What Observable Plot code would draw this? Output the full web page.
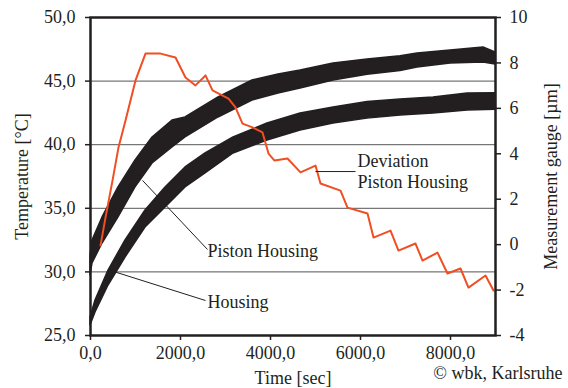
<!DOCTYPE html>
<html>
<head>
<meta charset="utf-8">
<script src="https://cdn.jsdelivr.net/npm/d3@7"></script>
<script src="https://cdn.jsdelivr.net/npm/@observablehq/plot@0.6"></script>
<style>
  html, body { margin: 0; padding: 0; background: #fff; }
</style>
</head>
<body>
<div id="chart"></div>
<script>
// ---- Deviation Piston Housing (right axis, µm) ----
const devTime  = [222, 333, 489, 622, 778, 1000, 1222, 1556, 1889, 2111, 2333, 2556, 2711, 3067, 3222, 3378, 3600, 3822, 3956, 4089, 4378, 4667, 5000, 5111, 5556, 5711, 6156, 6289, 6667, 6844, 7222, 7378, 7711, 7933, 8222, 8400, 8778, 8956];
const devValue = [-0.04, 1.19, 2.82, 4.28, 5.47, 7.23, 8.41, 8.41, 8.24, 7.36, 7.01, 7.45, 6.79, 6.43, 6.04, 5.33, 5.16, 4.94, 4.01, 3.70, 3.79, 3.18, 3.48, 2.69, 2.38, 1.63, 1.37, 0.31, 0.62, -0.26, 0.05, -0.70, -0.35, -1.27, -1.05, -1.89, -1.36, -2.02];

// ---- Piston Housing temperature band (°C) ----
const phTime = [0, 44, 267, 622, 1000, 1378, 1822, 2111, 2844, 3600, 4178, 4667, 5400, 6156, 6889, 7267, 8000, 8733, 9000];
const phLow  = [29.72, 30.66, 32.23, 34.28, 36.64, 38.52, 39.78, 40.57, 42.14, 43.47, 44.03, 44.42, 45.05, 45.50, 45.80, 46.07, 46.38, 46.46, 46.31];
const phHigh = [31.29, 32.47, 34.28, 36.64, 38.76, 40.57, 41.90, 42.14, 43.71, 45.05, 45.52, 45.83, 46.38, 46.70, 46.95, 47.17, 47.41, 47.64, 47.25];

// ---- Housing temperature band (°C) ----
const hTime = [0, 111, 400, 778, 1222, 1667, 2111, 2556, 3178, 3933, 4667, 5400, 6156, 6889, 7622, 8378, 9000];
const hLow  = [25.79, 26.81, 28.93, 31.13, 33.49, 35.06, 36.64, 37.74, 39.31, 40.33, 41.12, 41.67, 42.05, 42.30, 42.45, 42.69, 42.75];
const hHigh = [26.42, 27.75, 30.11, 32.47, 34.83, 36.64, 38.21, 39.31, 40.57, 41.67, 42.45, 42.92, 43.35, 43.55, 43.71, 44.03, 44.05];

// ---- ticks ----
const xTicks = [0, 2000, 4000, 6000, 8000];
const yTicks = [25, 30, 35, 40, 45, 50];
const gridTicks = [30, 35, 40, 45];
const rTicks = [-4, -2, 0, 2, 4, 6, 8, 10];

// ---- annotations ----
const annoText = ["Deviation", "Piston Housing", "Piston Housing", "Housing"];
const annoTime = [5933, 5933, 2600, 2600];
const annoTemp = [38.68, 37.03, 31.60, 27.59];
const leadT1 = [5000, 1156, 444];
const leadY1 = [37.89, 37.19, 30.11];
const leadT2 = [5889, 2600, 2556];
const leadY2 = [37.89, 31.76, 27.75];

// right axis (µm) mapped onto the temperature scale
const rMin = -4, rMax = 10, tMin = 25, tMax = 50;
const toT = v => tMin + (v - rMin) * (tMax - tMin) / (rMax - rMin);
const fromT = t => rMin + (t - tMin) * (rMax - rMin) / (tMax - tMin);
const comma1 = d => d.toFixed(1).replace(".", ",");

const dev = devTime.map((t, i) => ({t, v: devValue[i]}));
const ph = phTime.map((t, i) => ({t, lo: phLow[i], hi: phHigh[i]}));
const ho = hTime.map((t, i) => ({t, lo: hLow[i], hi: hHigh[i]}));
const anno = annoText.map((s, i) => ({s, t: annoTime[i], y: annoTemp[i]}));
const leads = leadT1.map((t, i) => ({x1: t, y1: leadY1[i], x2: leadT2[i], y2: leadY2[i]}));
const notes = [{s: "© wbk, Karlsruhe"}];

const ink = "#231f20";

const chart = Plot.plot({
  width: 568,
  height: 388,
  marginLeft: 90,
  marginRight: 73,
  marginTop: 17,
  marginBottom: 53,
  style: {fontFamily: "'Liberation Serif', 'Times New Roman', serif", fontSize: "18px", color: ink, background: "#fff", overflow: "visible"},
  x: {domain: [0, 9000]},
  y: {domain: [tMin, tMax]},
  marks: [
    Plot.ruleY(gridTicks, {stroke: "#555", strokeWidth: 1}),
    Plot.areaY(ho, {x: "t", y1: "lo", y2: "hi", fill: ink, stroke: ink, strokeWidth: 1.5}),
    Plot.areaY(ph, {x: "t", y1: "lo", y2: "hi", fill: ink, stroke: ink, strokeWidth: 1.5}),
    Plot.line(dev, {x: "t", y: d => toT(d.v), stroke: "#f04e23", strokeWidth: 2, strokeLinejoin: "round"}),
    Plot.link(leads, {x1: "x1", y1: "y1", x2: "x2", y2: "y2", stroke: ink, strokeWidth: 1}),
    Plot.text(anno, {x: "t", y: "y", text: "s", textAnchor: "start", fill: ink, fontSize: 18}),
    Plot.axisX(xTicks, {tickFormat: comma1, tickSize: 5, tickPadding: 6, stroke: ink, strokeWidth: 1.5, fill: ink, fontSize: 18,
      label: "Time [sec]", labelAnchor: "center", labelArrow: "none", labelOffset: 48}),
    Plot.axisY(yTicks, {anchor: "left", tickFormat: comma1, tickSize: 5, tickPadding: 10, stroke: ink, strokeWidth: 1.5, fill: ink, fontSize: 18,
      label: "Temperature [°C]", labelAnchor: "center", labelArrow: "none", labelOffset: 75}),
    Plot.axisY(rTicks.map(toT), {anchor: "right", tickFormat: d => String(Math.round(fromT(d))), tickSize: 5, tickPadding: 9, stroke: ink, strokeWidth: 1.5, fill: ink, fontSize: 18,
      label: "Measurement gauge [µm]", labelAnchor: "center", labelArrow: "none", labelOffset: 61}),
    Plot.frame({stroke: ink, strokeWidth: 2.5}),
    Plot.text(notes, {frameAnchor: "bottom-right", text: "s", textAnchor: "end", dx: 67, dy: 43, fill: ink, fontSize: 18})
  ]
});
document.getElementById("chart").appendChild(chart);
</script>
</body>
</html>
